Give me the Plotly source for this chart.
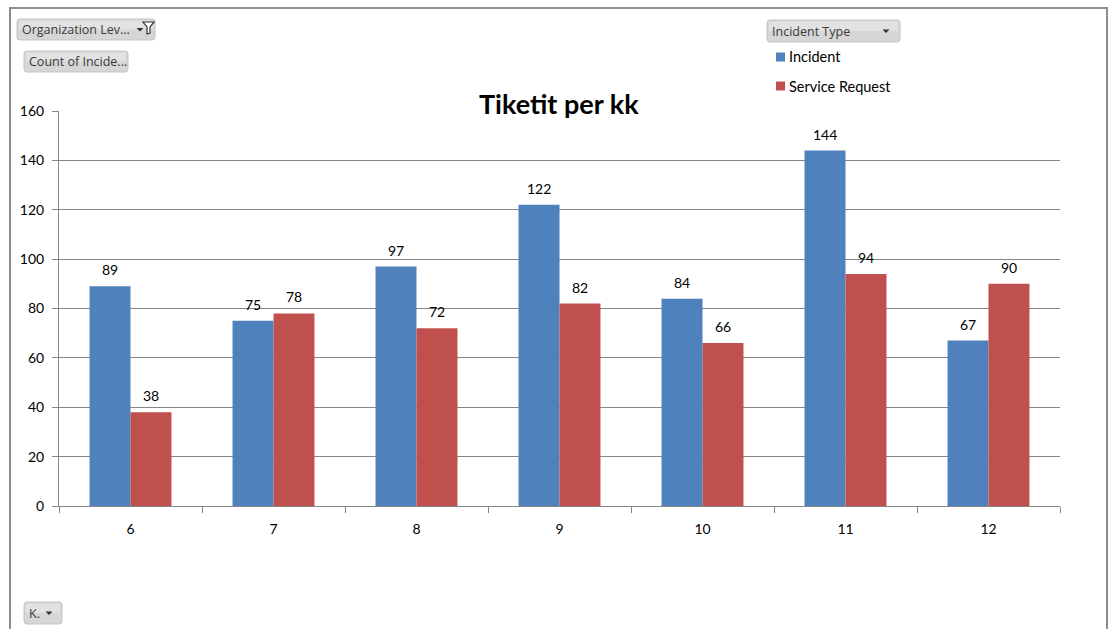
import plotly.graph_objects as go

# Tickets per month, split by incident type
months = ["6", "7", "8", "9", "10", "11", "12"]
incident = [89, 75, 97, 122, 84, 144, 67]
service_request = [38, 78, 72, 82, 66, 94, 90]
series_names = ["Incident", "Service Request"]
series_colors = ["#4F81BD", "#C0504D"]
y_ticks = [0, 20, 40, 60, 80, 100, 120, 140, 160]

W, H = 1110, 629
L, R, T, B = 59, 1060, 111, 506  # plot area in pixels
FONT = "Lato, Open Sans, sans-serif"


def px(x):
    return (x - L) / (R - L)


def py(y):
    return (B - y) / (B - T)


fig = go.Figure()
for name, vals, col in zip(series_names, [incident, service_request], series_colors):
    fig.add_trace(go.Bar(x=months, y=vals, name=name, marker=dict(color=col, line=dict(width=0)),
                         showlegend=False))

# value labels above each bar (category index positions on the x axis)
annotations = []
half = (R - L) / len(months) * (1 - 0.427) / 4
for vals, shift in [(incident, -half), (service_request, half)]:
    for i, v in enumerate(vals):
        annotations.append(dict(x=i, y=v, xref="x", yref="y", text=str(v), showarrow=False,
                                xshift=shift, yshift=6, yanchor="bottom",
                                font=dict(family=FONT, size=14, color="#000")))

# chart title
annotations.append(dict(x=px(559), y=py(104), xref="paper", yref="paper", text="<b>Tiketit per kk</b>",
                        showarrow=False, xanchor="center", yanchor="middle",
                        font=dict(family=FONT, size=27, color="#000")))

shapes = []

# outer frame
shapes.append(dict(type="path", xref="paper", yref="paper", layer="above",
                   path=f"M {px(10)} {py(640)} L {px(10)} {py(8)} L {px(1107)} {py(8)} L {px(1107)} {py(640)}",
                   line=dict(color="#8C8C8C", width=2)))


def button(x0, y0, x1, y1, label, arrow_x=None):
    r = 3
    p = (f"M {px(x0 + r)} {py(y0)} L {px(x1 - r)} {py(y0)} Q {px(x1)} {py(y0)} {px(x1)} {py(y0 + r)} "
         f"L {px(x1)} {py(y1 - r)} Q {px(x1)} {py(y1)} {px(x1 - r)} {py(y1)} "
         f"L {px(x0 + r)} {py(y1)} Q {px(x0)} {py(y1)} {px(x0)} {py(y1 - r)} "
         f"L {px(x0)} {py(y0 + r)} Q {px(x0)} {py(y0)} {px(x0 + r)} {py(y0)} Z")
    shapes.append(dict(type="path", xref="paper", yref="paper", path=p, layer="above",
                       fillcolor="#D6D6D6", line=dict(color="#C4C4C4", width=1)))
    # lighter upper half for a soft gradient look
    ym = (y0 + y1) / 2
    shapes.append(dict(type="rect", xref="paper", yref="paper", layer="above",
                       x0=px(x0 + 2), x1=px(x1 - 2), y0=py(y0 + 1.5), y1=py(ym),
                       fillcolor="#E2E2E2", line=dict(width=0)))
    annotations.append(dict(x=px(x0 + 3), y=py((y0 + y1) / 2), xref="paper", yref="paper", text=label,
                            showarrow=False, xanchor="left", yanchor="middle",
                            font=dict(family="Open Sans, sans-serif", size=12.5, color="#3A3A3A")))
    if arrow_x is not None:
        cy = (y0 + y1) / 2
        shapes.append(dict(type="path", xref="paper", yref="paper", layer="above",
                           path=f"M {px(arrow_x - 3.5)} {py(cy - 1.5)} L {px(arrow_x + 3.5)} {py(cy - 1.5)} "
                                f"L {px(arrow_x)} {py(cy + 2)} Z",
                           fillcolor="#333", line=dict(width=0)))


button(17, 19, 155, 40, "Organization Lev...", arrow_x=140)
# filter funnel icon
shapes.append(dict(type="path", xref="paper", yref="paper", layer="above",
                   path=f"M {px(143)} {py(22)} L {px(154)} {py(22)} L {px(150)} {py(27)} L {px(150)} {py(33)} "
                        f"L {px(147)} {py(34)} L {px(147)} {py(27)} Z",
                   fillcolor="#FFFFFF", line=dict(color="#333", width=1.2)))
button(24, 51, 128, 72, "Count of Incide...")
button(767, 20, 900, 42, "Incident Type", arrow_x=886)
button(24, 602, 62, 624, "K.", arrow_x=49)

# legend
for i, (name, col) in enumerate(zip(series_names, series_colors)):
    yc = 57 + i * 29
    shapes.append(dict(type="rect", xref="paper", yref="paper", layer="above",
                       x0=px(776), x1=px(785), y0=py(yc - 4.5), y1=py(yc + 4.5),
                       fillcolor=col, line=dict(width=0)))
    annotations.append(dict(x=px(787), y=py(yc), xref="paper", yref="paper", text=name,
                            showarrow=False, xanchor="left", yanchor="middle",
                            font=dict(family=FONT, size=14.5, color="#000")))

fig.update_layout(
    width=W, height=H, autosize=False,
    margin=dict(l=L, r=W - R, t=T, b=H - B, pad=0),
    paper_bgcolor="white", plot_bgcolor="white",
    barmode="group", bargap=0.427, bargroupgap=0,
    font=dict(family=FONT, size=14, color="#000"),
    xaxis=dict(type="category", range=[-0.5, len(months) - 0.5], autorange=False,
               showline=True, linecolor="#868686", linewidth=1,
               ticks="outside", tickson="boundaries", ticklen=6, tickcolor="#868686",
               ticklabelstandoff=10,
               showgrid=False, tickfont=dict(family=FONT, size=14, color="#000")),
    yaxis=dict(range=[0, 160], tickvals=y_ticks, showline=True, linecolor="#868686", linewidth=1,
               ticks="outside", ticklen=6, tickcolor="#868686", ticklabelstandoff=5,
               showgrid=True, gridcolor="#868686", gridwidth=1, zeroline=False,
               tickfont=dict(family=FONT, size=14, color="#000")),
    annotations=annotations, shapes=shapes,
)

fig.write_html("out.html")
